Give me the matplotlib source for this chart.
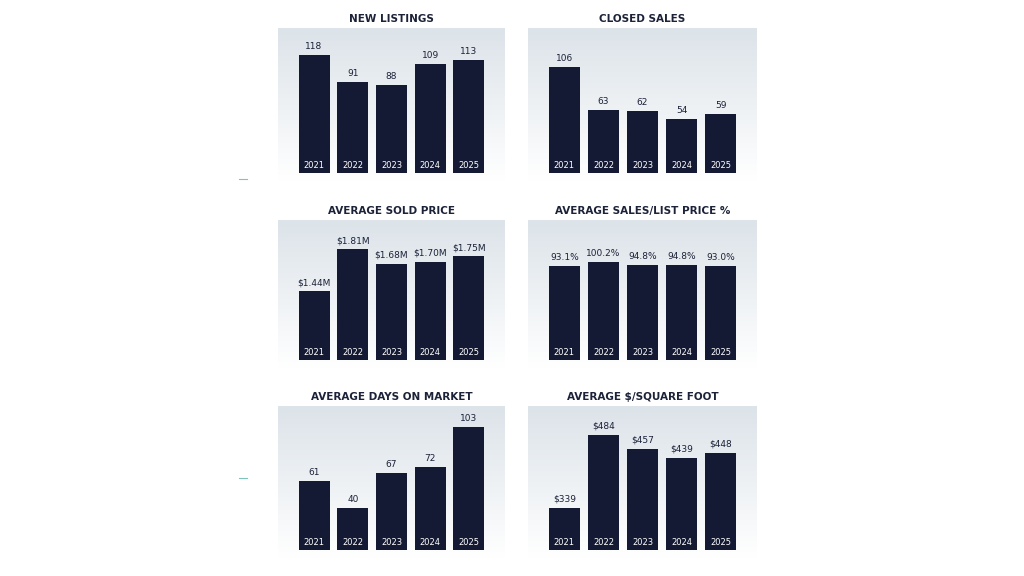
import matplotlib
matplotlib.use("Agg")
import matplotlib.pyplot as plt
import numpy as np
from matplotlib.colors import LinearSegmentedColormap

years = ["2021", "2022", "2023", "2024", "2025"]
titles = ["NEW LISTINGS", "CLOSED SALES", "AVERAGE SOLD PRICE",
          "AVERAGE SALES/LIST PRICE %", "AVERAGE DAYS ON MARKET", "AVERAGE $/SQUARE FOOT"]
new_listings = [118, 91, 88, 109, 113]
closed_sales = [106, 63, 62, 54, 59]
sold_price = [1.44, 1.81, 1.68, 1.70, 1.75]
sale_list_pct = [93.1, 100.2, 94.8, 94.8, 93.0]
days_on_market = [61, 40, 67, 72, 103]
price_sqft = [339, 484, 457, 439, 448]

series = [new_listings, closed_sales, sold_price, sale_list_pct, days_on_market, price_sqft]
labels = [[str(v) for v in new_listings], [str(v) for v in closed_sales],
          [f"${v:.2f}M" for v in sold_price], [f"{v:.1f}%" for v in sale_list_pct],
          [str(v) for v in days_on_market], [f"${v}" for v in price_sqft]]
# visual scale (base, px per unit)
scales = [(0, 1.0), (0, 1.0), (0.83, 113), (-75, 0.56), (7.5, 1.29), (254, 0.5)]

W, Hf = 1024, 576
fig = plt.figure(figsize=(W/100, Hf/100), dpi=100)
fig.patch.set_facecolor("white")
cols = [(278, 505), (528, 757)]
rows = [(28, 181), (220, 368), (406, 558)]
bar_c = "#141a33"
txt_c = "#1c2238"
grad = np.linspace(0, 1, 256).reshape(-1, 1)
cmap = LinearSegmentedColormap.from_list("g", ["#ffffff", "#dce3e9"])
XL, XR = -0.93, 4.93

for i in range(6):
    r, c = divmod(i, 2)
    x0, x1 = cols[c]; y0, y1 = rows[r]
    ax = fig.add_axes([x0/W, 1 - y1/Hf, (x1-x0)/W, (y1-y0)/Hf])
    H = y1 - y0
    base, ppu = scales[i]
    lo = base - 8/ppu; hi = base + (H-8)/ppu
    ax.imshow(grad, aspect="auto", cmap=cmap, extent=[XL, XR, lo, hi], origin="lower", zorder=0)
    x = np.arange(5)
    vals = np.array(series[i], dtype=float)
    ax.bar(x, vals - base, bottom=base, width=0.8, color=bar_c, zorder=2)
    for xi, v, lab in zip(x, vals, labels[i]):
        ax.text(xi, v + 4/ppu, lab, ha="center", va="bottom", fontsize=6.5, color=txt_c)
        ax.text(xi, base + 3/ppu, years[xi], ha="center", va="bottom", fontsize=6, color="white")
    ax.set_xlim(XL, XR); ax.set_ylim(lo, hi)
    ax.axis("off")
    fig.text((x0+x1)/2/W, 1 - (y0-9)/Hf, titles[i], ha="center", va="center",
             fontsize=7.5, fontweight="bold", color=txt_c)

for yy in (179, 478):
    fig.add_artist(plt.Line2D([239/W, 247/W], [1-yy/Hf]*2, color="#7fc4bb", lw=0.8))

fig.savefig("out.png", dpi=100)
